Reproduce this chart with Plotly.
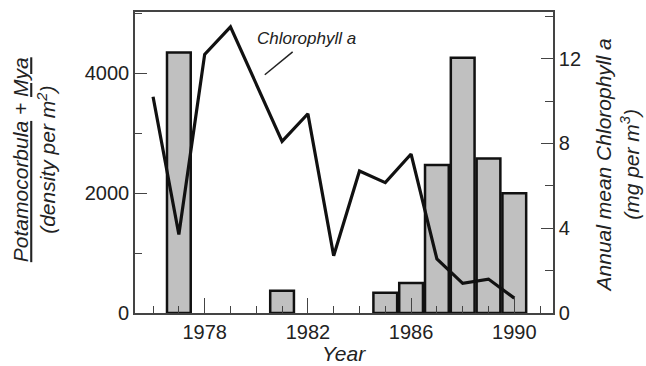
import plotly.graph_objects as go

# Data
bar_years = [1977, 1981, 1985, 1986, 1987, 1988, 1989, 1990]
density = [4350, 370, 340, 500, 2470, 4260, 2580, 2000]

chl_years = [1976, 1977, 1978, 1979, 1981, 1982, 1983, 1984, 1985, 1986, 1987, 1988, 1989, 1990]
chlorophyll = [10.2, 3.7, 12.2, 13.5, 8.1, 9.4, 2.7, 6.7, 6.15, 7.5, 2.55, 1.4, 1.6, 0.7]

x_ticks = [1978, 1982, 1986, 1990]
left_ticks = [0, 2000, 4000]
right_ticks = [0, 4, 8, 12]

FONT = "Liberation Sans, Arial, sans-serif"
FRAME = "#444444"

fig = go.Figure()
fig.add_trace(go.Bar(
    x=bar_years, y=density, width=0.92,
    marker=dict(color="#c0c0c0", line=dict(color="#111111", width=2.5)),
    yaxis="y", showlegend=False,
))
fig.add_trace(go.Scatter(
    x=chl_years, y=chlorophyll, mode="lines",
    line=dict(color="#111111", width=3.2),
    yaxis="y2", showlegend=False,
))

fig.update_layout(
    width=646, height=366,
    margin=dict(l=135, r=93, t=10, b=53),
    paper_bgcolor="white", plot_bgcolor="white",
    font=dict(family=FONT, size=20, color="#222222"),
    xaxis=dict(
        range=[1975.3, 1991.5], tickvals=x_ticks, ticks="inside", ticklen=15,
        tickwidth=1.3, tickcolor=FRAME,
        minor=dict(dtick=1, tick0=1976, ticks="inside", ticklen=7, tickwidth=1.3, tickcolor=FRAME),
        showline=True, linecolor=FRAME, linewidth=1.6, mirror=True,
        showgrid=False, zeroline=False,
        tickfont=dict(size=20),
    ),
    yaxis=dict(
        range=[0, 5025], tickvals=left_ticks, ticks="inside", ticklen=12,
        tickwidth=1.3, tickcolor=FRAME,
        minor=dict(dtick=1000, ticks="inside", ticklen=7, tickwidth=1.3, tickcolor=FRAME),
        showline=True, linecolor=FRAME, linewidth=1.6,
        showgrid=False, zeroline=False, tickfont=dict(size=20),
    ),
    yaxis2=dict(
        range=[0, 14.2], tickvals=right_ticks, ticks="inside", ticklen=12,
        tickwidth=1.3, tickcolor=FRAME,
        minor=dict(dtick=2, ticks="inside", ticklen=8, tickwidth=1.3, tickcolor=FRAME),
        overlaying="y", side="right",
        showline=True, linecolor=FRAME, linewidth=1.6,
        showgrid=False, zeroline=False, tickfont=dict(size=20),
    ),
    annotations=[
        dict(text="<i>Year</i>", xref="paper", yref="paper", x=0.5, y=-0.135,
             showarrow=False, font=dict(size=21), xanchor="center", yanchor="middle"),
        dict(text="<i><span style='text-decoration:underline'>Potamocorbula</span> + "
                  "<span style='text-decoration:underline'>Mya</span><br>(density per m<sup>2</sup>)</i>",
             xref="paper", yref="paper", x=-0.24, y=0.51, xanchor="center", yanchor="middle",
             textangle=-90, showarrow=False, font=dict(size=21)),
        dict(text="<i>Annual mean Chlorophyll a<br>(mg per m<sup>3</sup>)</i>",
             xref="paper", yref="paper", x=1.153, y=0.49, xanchor="center", yanchor="middle",
             textangle=-90, showarrow=False, font=dict(size=21)),
        dict(text="<i>Chlorophyll a</i>", xref="x", yref="y2", x=1981.95, y=12.93,
             showarrow=False, font=dict(size=17), xanchor="center", yanchor="middle"),
    ],
    shapes=[
        dict(type="line", xref="x", yref="y2", x0=1981.41, y0=12.32, x1=1980.33, y1=11.24,
             line=dict(color="#222222", width=1.5)),
    ],
)

fig.write_html("out.html", config={"displayModeBar": False},
               post_script="document.body.style.margin='0';document.body.style.overflow='hidden';")
